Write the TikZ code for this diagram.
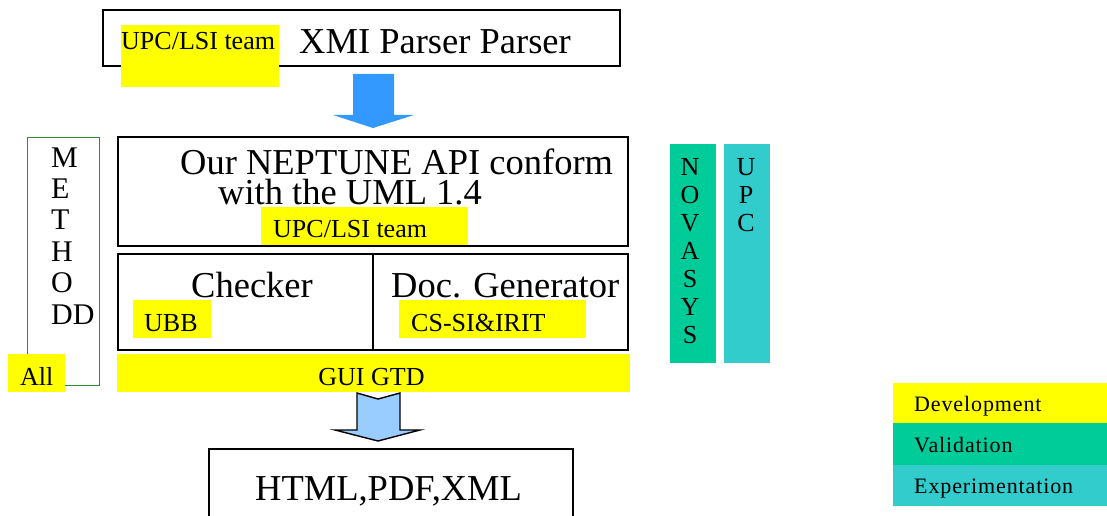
\documentclass[tikz,border=0pt]{standalone}
\usepackage{fontspec}
\setmainfont{Liberation Serif}
\definecolor{dev}{HTML}{FFFF00}
\definecolor{val}{HTML}{00CC99}
\definecolor{expc}{HTML}{33CCCC}
\definecolor{arrowblue}{HTML}{3399FF}
\definecolor{lightarrow}{HTML}{99CCFF}
\definecolor{methgreen}{HTML}{2E8B2E}
\begin{document}
\begin{tikzpicture}[x=1pt,y=-1pt,
  box/.style={draw=black,line width=1.6pt,anchor=north west,inner sep=0pt},
  hl/.style={fill=dev,draw=none,anchor=north west,inner sep=0pt},
  big/.style={font=\fontsize{36.5}{36.5}\selectfont,inner sep=0pt,anchor=base west},
  small/.style={font=\fontsize{26}{26}\selectfont,inner sep=0pt,anchor=base west},
  colletter/.style={font=\fontsize{30}{30}\selectfont,inner sep=0pt,anchor=base west},
  vletter/.style={font=\fontsize{26}{26}\selectfont,inner sep=0pt,anchor=base},
  legtext/.style={font=\fontsize{22}{22}\selectfont\addfontfeature{LetterSpace=4}, inner sep=0pt,anchor=base west},
  legbox/.style={draw=none,anchor=north west,inner sep=0pt,minimum width=214pt,minimum height=41pt}]
\useasboundingbox (0,0) rectangle (1107,516);
\clip (0,0) rectangle (1107,516);
% boxes
\node[box,minimum width=517pt,minimum height=56pt] (xmi) at (102,9) {};
\node[box,minimum width=510pt,minimum height=109pt] (api) at (117,136) {};
\node[box,minimum width=255pt,minimum height=96pt] (chk) at (117,253) {};
\node[box,minimum width=255pt,minimum height=96pt] (doc) at (372,253) {};
\node[box,minimum width=364pt,minimum height=100pt] (out) at (208,448) {};
\node[draw=methgreen,line width=1.2pt,anchor=north west,inner sep=0pt,minimum width=72pt,minimum height=248pt] (meth) at (27,137) {};
% vertical bars
\node[fill=val,anchor=north west,inner sep=0pt,minimum width=46pt,minimum height=219pt] (nov) at (670,144) {};
\node[fill=expc,anchor=north west,inner sep=0pt,minimum width=46pt,minimum height=219pt] (upc) at (724,144) {};
% yellow highlights
\node[hl,minimum width=158pt,minimum height=62pt] (y1) at (121,25) {};
\node[hl,minimum width=207pt,minimum height=38pt] (y2) at (261,207) {};
\node[hl,minimum width=78pt,minimum height=38pt] (y3) at (133,300) {};
\node[hl,minimum width=187pt,minimum height=38pt] (y4) at (399,300) {};
\node[hl,minimum width=513pt,minimum height=38pt] (y5) at (117,354) {};
\node[hl,minimum width=57pt,minimum height=38pt] (y6) at (8,354) {};
% arrows
\fill[arrowblue] (353,74) -- (394,74) -- (394,115) -- (414,115) -- (373,128) -- (333,115) -- (353,115) -- cycle;
\filldraw[fill=lightarrow,draw=black,line width=1.4pt,line join=miter]
  (357,393) -- (378,399) -- (400,393) -- (400,430) -- (420,430) -- (378,441) -- (335,430) -- (357,430) -- cycle;
% texts
\node[small] (t1) at (121,50) {UPC/LSI team};
\node[big] (t2) at (299,54) {XMI Parser Parser};
\node[big] (t3) at (180,174) {Our NEPTUNE API conform};
\node[big] (t4) at (218,204) {with the UML 1.4};
\node[small] (t5) at (273,237) {UPC/LSI team};
\node[big,anchor=base] (t6) at (252,297) {Checker};
\node[big] (t7) at (391,297) {Doc. Generator};
\node[small] (t8) at (144,331) {UBB};
\node[small] (t9) at (411,331) {CS-SI\&IRIT};
\node[small,anchor=base] (t10) at (371.5,385) {GUI GTD};
\node[small] (t11) at (20,385) {All};
\node[big] (t12) at (255,500) {HTML,PDF,XML};
% METHODD
\foreach \l [count=\i] in {M,E,T,H,O,DD}
  \node[colletter] (m\i) at (51,{167+31.4*(\i-1)}) {\l};
% NOVASYS
\foreach \l [count=\i] in {N,O,V,A,S,Y,S}
  \node[vletter] (n\i) at (690,{175+28*(\i-1)}) {\l};
% UPC
\foreach \l [count=\i] in {U,P,C}
  \node[vletter] (u\i) at (746,{175+28*(\i-1)}) {\l};
% legend
\node[legbox,fill=dev] (ld) at (893,383) {};
\node[legbox,fill=val,minimum height=42pt] (lv) at (893,423) {};
\node[legbox,fill=expc] (le) at (893,465) {};
\node[legtext] (ldt) at (914,411) {Development};
\node[legtext] (lvt) at (914,452) {Validation};
\node[legtext] (let) at (914,493) {Experimentation};
\end{tikzpicture}
\end{document}
